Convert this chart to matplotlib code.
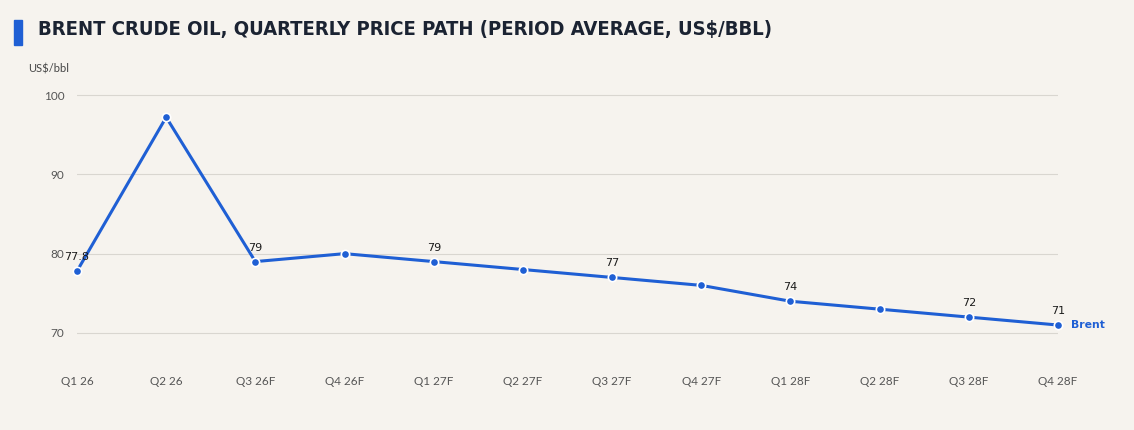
import matplotlib
matplotlib.use("Agg")
import matplotlib.pyplot as plt
from matplotlib.patches import Rectangle

quarters = ["Q1 26", "Q2 26", "Q3 26F", "Q4 26F", "Q1 27F", "Q2 27F",
            "Q3 27F", "Q4 27F", "Q1 28F", "Q2 28F", "Q3 28F", "Q4 28F"]
brent = [77.8, 97.2, 79, 80, 79, 78, 77, 76, 74, 73, 72, 71]
labelled = [0, 2, 4, 6, 8, 10, 11]
label_text = ["77.8", "79", "79", "77", "74", "72", "71"]
y_ticks = [70, 80, 90, 100]

BG = "#f6f3ee"
BLUE = "#1f5fd4"
INK = "#1b2332"
GREY = "#555555"

W, H = 1134, 430
fig = plt.figure(figsize=(W / 100, H / 100), dpi=100, facecolor=BG)

# title block
fig.patches.append(Rectangle((14 / W, 1 - 45 / H), 8 / W, 25 / H,
                             transform=fig.transFigure, color=BLUE))
fig.text(38 / W, 1 - 29 / H, "BRENT CRUDE OIL, QUARTERLY PRICE PATH (PERIOD AVERAGE, US$/BBL)",
         fontsize=14.5, fontweight="bold", fontstretch="condensed", color=INK,
         va="center", ha="left", family="DejaVu Sans")
fig.text(28 / W, 1 - 69 / H, "US$/bbl", fontsize=8, color="#444444",
         va="center", ha="left", family="Lato")

ax = fig.add_axes([77 / W, 1 - 364.7 / H, (1058 - 77) / W, 280 / H])
ax.set_facecolor(BG)
x = list(range(len(quarters)))
ax.plot(x, brent, color=BLUE, linewidth=2.2, marker="o", markersize=6,
        markerfacecolor=BLUE, markeredgecolor="white", markeredgewidth=1.2,
        clip_on=False, zorder=3)

for i, txt in zip(labelled, label_text):
    ax.annotate(txt, (x[i], brent[i]), xytext=(0, 6.5), textcoords="offset points",
                ha="center", va="bottom", fontsize=8, color="#1a1a1a", family="DejaVu Sans")

ax.annotate("Brent", (x[-1], brent[-1]), xytext=(9, 0), textcoords="offset points",
            ha="left", va="center", fontsize=7.8, fontweight="bold", color=BLUE,
            family="DejaVu Sans")

ax.set_xlim(0, len(quarters) - 1)
ax.set_ylim(66, 101.3)
ax.set_yticks(y_ticks)
ax.set_xticks(x)
ax.set_xticklabels(quarters)
ax.grid(axis="y", color="#d9d6d0", linewidth=0.8)
ax.set_axisbelow(True)
for side in ax.spines.values():
    side.set_visible(False)
ax.tick_params(axis="both", length=0, labelsize=8.5, colors=GREY)
ax.tick_params(axis="y", pad=9)
ax.tick_params(axis="x", pad=8)
for lab in ax.get_xticklabels() + ax.get_yticklabels():
    lab.set_family("Lato")

fig.savefig("out.png", dpi=100, facecolor=BG)
